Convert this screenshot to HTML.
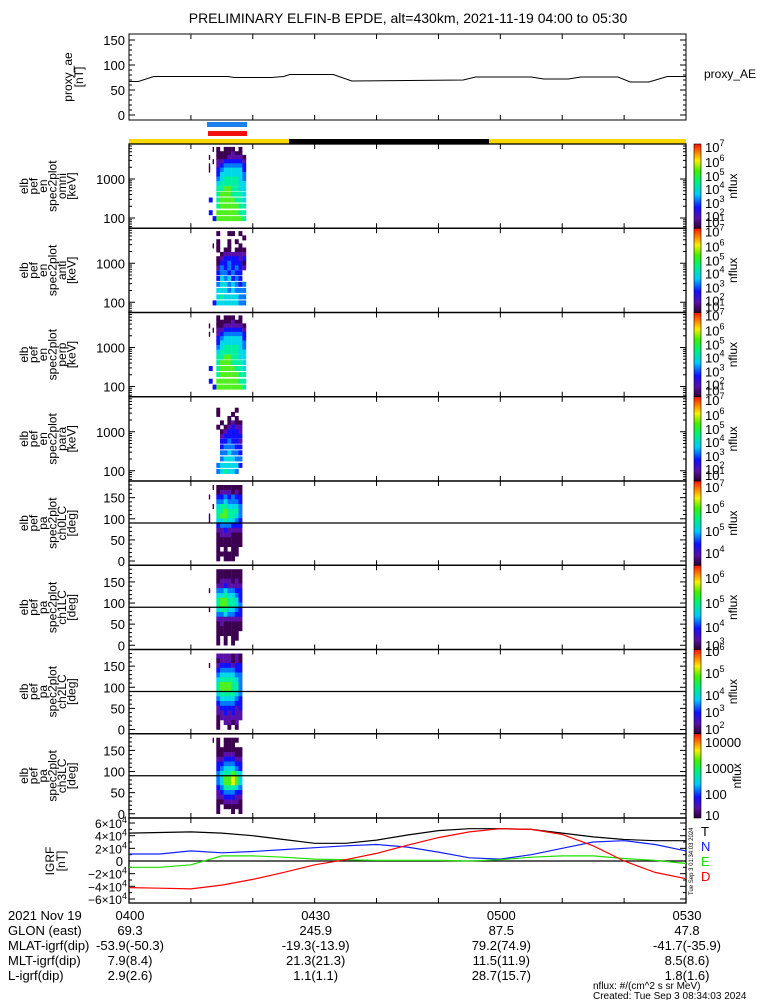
<!DOCTYPE html>
<html><head><meta charset="utf-8"><style>
html,body{margin:0;padding:0;background:#fff;}
svg{display:block;font-family:"Liberation Sans",sans-serif;}
</style></head><body>
<svg id="c" width="775" height="1000" viewBox="0 0 775 1000">
<text x="408" y="23" font-size="14" text-anchor="middle">PRELIMINARY ELFIN-B EPDE, alt=430km, 2021-11-19 04:00 to 05:30</text>
</svg>
<script>
const timeCols=[13.2,13.8,14.4,15.0,15.6,16.2,16.8,17.4,18.0,18.6,19.2];
const energyBins=[5800,4500,3600,2800,2200,1700,1315,1010,770,572,413,291,203,138,97,63];
const paBins=[174.4,163.1,151.9,140.6,129.4,118.1,106.9,95.6,84.4,73.1,61.9,50.6,39.4,28.1,16.9,5.6];
const aeTimes=[0,1.5,4,16,17,23,25,26,33,36,45,54,56,65,67,71,73,79,81,84,87,90];
const aeValues=[67,67,77,77,75,75,77,81,81,68,69,70,76,76,72,72,76,76,66,66,77,77];
const igrfTimes=[0,5,10,15,20,25,30,35,40,45,50,55,60,65,70,75,80,85,90];
const igrfT=[4.4,4.5,4.6,4.4,4.0,3.4,2.8,2.8,3.3,4.1,4.8,5.1,5.1,5.0,4.4,3.8,3.4,3.2,3.2];
const igrfN=[1.1,1.1,1.6,1.3,1.5,1.8,2.1,2.4,2.6,2.2,1.4,0.5,0.3,1.0,2.0,3.0,3.2,2.6,1.6];
const igrfE=[-1.0,-1.0,-0.6,0.8,0.8,0.6,0.3,0.2,0.1,0.1,0.1,0.0,0.2,0.6,0.8,0.8,0.4,0.1,-0.4];
const igrfD=[-4.2,-4.3,-4.4,-3.8,-2.9,-1.8,-0.6,0.2,1.2,2.5,3.7,4.6,5.1,5.0,4.2,2.4,0.0,-1.8,-2.8];
const specOmni=["01101110100","00111121100","10111222210","01223333320","10234444430","10345555530","00355555540","00456666540","00566666550","00667766550","00677766650","30677776650","00677777660","30777777660","03777777760","00000000000"];
const specAnt=["00100110100","00000000010","00100101000","01100100100","00101101110","00012222220","00123333230","00133433310","00243434320","00344343300","00354534300","00455454340","00555454440","00565555440","03555555440","00000000000"];
const specPerp=["00101110100","00111121100","10112222210","01223333320","10234444430","00345555530","00355555540","00456666540","00566666550","00667766550","00677766650","30677776650","00677777660","30777777660","03777777760","00000000000"];
const specPara=["00000000000","00000000000","00100001000","00100010000","00000101000","00010121100","00101232200","00012333200","00023333300","00033433200","00034443300","00044544300","00045554400","00455555300","00456554000","00000000000"];
const pa0=["01111111100","00122212100","10334343300","00445444300","01566555400","00667666400","10677665400","10556554300","00344433300","00223222200","00122211100","00111111100","00111111100","00101011000","00111111000","00101110000"];
const pa1=["00111111100","00111111100","00122212100","00223222200","10445443300","00556554300","00677665300","00677665400","10566554300","00445443300","00222222200","00121111100","00111111100","00111111000","00101011000","00101010000"];
const pa2=["00222212100","00122212100","10233323300","00344443300","00455554400","00566665400","00677766400","00677766400","00566665400","00455554300","00344443300","00233332300","00223232200","00122222200","00102212000","00100101000"];
const pa3=["01101111000","00101110000","00111111100","00112221100","00223332200","00334443300","00345554300","00456676500","00457787500","00457787500","00346665400","00234443300","00223332200","00112222100","00101111100","00100010100"];
const cbLabels1=[["7",147],["6",162],["5",176],["4",189],["3",203],["2",216],["1",222]];
const cbLabelsPa0=[["7",487],["6",508],["5",531],["4",553]];
const cbLabelsPa1=[["6",578],["5",603],["4",627],["3",645]];
const cbLabelsPa2=[["6",651],["5",673],["4",695],["3",712],["2",729]];
const cbLabelsPa3=[["10000",743],["1000",769],["100",795],["10",816]];

const NS="http://www.w3.org/2000/svg";
const svg=document.getElementById('c');
const X0=129,X1=686;
function xT(t){return X0+(X1-X0)*t/90;}
function mk(tag,attrs,parent){const e=document.createElementNS(NS,tag);for(const k in attrs)e.setAttribute(k,attrs[k]);(parent||svg).appendChild(e);return e;}
function txt(x,y,s,size,anchor,parent){const t=mk('text',{x:x,y:y,'font-size':size||12,'text-anchor':anchor||'start'},parent);t.textContent=s;return t;}
const colors=[null,'#3c0050','#5a10a8','#1010ff','#0078ff','#00d8e8','#00f0a0','#50f020','#f8f000','#ff8000'];
const PT=144,PH=84.25;

const aeTop=34,aeBot=120;
function yAE(v){return 115-v*0.5;}
let g=mk('g',{});


mk('rect',{x:X0,y:aeTop,width:X1-X0,height:aeBot-aeTop,fill:'none',stroke:'#000','stroke-width':1},g);
for(let v=0;v<=150;v+=10){const y=yAE(v);const L=(v%50==0)?6:3;mk('line',{x1:X0,x2:X0+L,y1:y,y2:y,stroke:'#000'},g);mk('line',{x1:X1,x2:X1-L,y1:y,y2:y,stroke:'#000'},g);
 if(v%50==0){txt(X0-4,y+5,String(v),13,'end',g);}}
let d='';aeTimes.forEach((t,i)=>{d+=(i?'L':'M')+xT(t).toFixed(1)+','+yAE(aeValues[i]).toFixed(1);});
let p=mk('path',{d:d,fill:'none',stroke:'#000','stroke-width':1},g);


let t1=txt(704,78,'proxy_AE',12,'start',g);


let yl=mk('text',{transform:'translate(78,77) rotate(-90)','font-size':12,'text-anchor':'middle'},g);


yl.innerHTML='<tspan x="0" dy="-6">proxy_ae</tspan><tspan x="0" dy="11">[nT]</tspan>';

function xTicks(top,bot,par){for(let t=10;t<90;t+=10){const x=xT(t);mk('line',{x1:x,x2:x,y1:bot,y2:bot-5,stroke:'#000'},par);mk('line',{x1:x,x2:x,y1:top,y2:top+5,stroke:'#000'},par);}}
xTicks(aeTop,aeBot,g);

let b=mk('rect',{x:207,y:122,width:40,height:5,fill:'#1a80f0'});


b=mk('rect',{x:208,y:131,width:39,height:5,fill:'#f01010'});


b=mk('rect',{x:X0,y:139,width:X1-X0,height:5,fill:'#f8d800'});


b=mk('rect',{x:289,y:139,width:200,height:5,fill:'#000'});



const defs=mk('defs',{});
const lg=mk('linearGradient',{id:'cb',x1:0,y1:1,x2:0,y2:0},defs);
[['0','#2a0038'],['0.12','#5a10a8'],['0.25','#1010ff'],['0.4','#00c8ff'],['0.55','#00f080'],['0.68','#40f000'],['0.8','#f8f000'],['0.9','#ff8000'],['1','#ff1000']].forEach(s=>mk('stop',{offset:s[0],'stop-color':s[1]},lg));

function sup(parent,x,y,base,exp){const t=mk('text',{x:x,y:y,'font-size':13},parent);t.innerHTML=base+'<tspan dy="-6" font-size="9">'+exp+'</tspan>';return t;}

function spectro(idx,data,lines,isPA,cbl,name){
 const top=PT+idx*PH,bot=top+PH;
 const gg=mk('g',{});
 
 
 const yE=v=>top+35+(3-Math.log10(v))*39;
 const yP=v=>top+4+(180-v)*(76/180);
 const cw=xT(timeCols[1])-xT(timeCols[0]);
 data.forEach((row,r)=>{
  for(let c=0;c<row.length;c++){const lv=+row[c];if(!lv)continue;
   let yc,h;
   if(isPA){yc=yP(paBins[r]);h=(76/180)*11.25;}else{yc=yE(energyBins[r]);h=Math.abs(yE(energyBins[r]*1.3)-yE(energyBins[r]))+0.3;}
   const cell=mk('rect',{x:(xT(timeCols[c])-cw/2).toFixed(1),y:(yc-h/2).toFixed(1),width:(lv<=1&&c<2?1.4:cw+0.2).toFixed(1),height:(h+0.3).toFixed(1),fill:colors[lv]},gg);
   
   
  }});
 mk('rect',{x:X0,y:top,width:X1-X0,height:PH,fill:'none',stroke:'#000','stroke-width':1.3},gg);
 xTicks(top,bot,gg);
 if(isPA){
  const yl90=yP(90);mk('line',{x1:X0,x2:X1,y1:yl90,y2:yl90,stroke:'#000','stroke-width':1.2},gg);
  for(let v=0;v<=180;v+=10){const y=yP(v);const L=(v%50==0)?6:3;mk('line',{x1:X0,x2:X0+L,y1:y,y2:y,stroke:'#000'},gg);mk('line',{x1:X1,x2:X1-L,y1:y,y2:y,stroke:'#000'},gg);
   if(v%50==0)txt(X0-4,y+5,String(v),13,'end',gg);}
 }else{
  for(let dcd=1;dcd<=4;dcd++)for(let m=1;m<10;m++){const v=m*Math.pow(10,dcd);const y=yE(v);if(y<top||y>bot)continue;const L=m==1?6:3;mk('line',{x1:X0,x2:X0+L,y1:y,y2:y,stroke:'#000'},gg);mk('line',{x1:X1,x2:X1-L,y1:y,y2:y,stroke:'#000'},gg);}
  txt(X0-4,yE(1000)+5,'1000',13,'end',gg);txt(X0-4,yE(100)+5,'100',13,'end',gg);
 }
 const ylab=mk('text',{transform:'translate('+(50)+','+(top+PH/2)+') rotate(-90)','font-size':12,'text-anchor':'middle'},gg);
 
 
 let inner='';lines.forEach((s,i)=>{inner+='<tspan x="0" y="'+(-22+i*9.5)+'">'+s+'</tspan>';});ylab.innerHTML=inner;
 const cb=mk('rect',{x:694,y:top,width:7,height:PH,fill:'url(#cb)',stroke:'#000','stroke-width':0.6},gg);
 
 
 cbl.forEach(l=>{if(l[0].length>1)txt(705,l[1]+4,l[0],13,'start',gg);else sup(gg,705,l[1]+5,'10',l[0]);});
 const nf=mk('text',{transform:'translate('+(idx==7?741:737)+','+(top+PH/2)+') rotate(-90)','font-size':12,'text-anchor':'middle'},gg);nf.textContent='nflux';
 
 
}
spectro(0,specOmni,['elb','pef','en','spec2plot','omni','[keV]'],false,cbLabels1,'energy-spectrogram-omni');
spectro(1,specAnt,['elb','pef','en','spec2plot','anti','[keV]'],false,cbLabels1.map(l=>[l[0],l[1]+PH]),'energy-spectrogram-anti');
spectro(2,specPerp,['elb','pef','en','spec2plot','perp','[keV]'],false,cbLabels1.map(l=>[l[0],l[1]+2*PH]),'energy-spectrogram-perp');
spectro(3,specPara,['elb','pef','en','spec2plot','para','[keV]'],false,cbLabels1.map(l=>[l[0],l[1]+3*PH]),'energy-spectrogram-para');
spectro(4,pa0,['elb','pef','pa','spec2plot','ch0LC','[deg]'],true,cbLabelsPa0,'pitch-angle-ch0');
spectro(5,pa1,['elb','pef','pa','spec2plot','ch1LC','[deg]'],true,cbLabelsPa1,'pitch-angle-ch1');
spectro(6,pa2,['elb','pef','pa','spec2plot','ch2LC','[deg]'],true,cbLabelsPa2,'pitch-angle-ch2');
spectro(7,pa3,['elb','pef','pa','spec2plot','ch3LC','[deg]'],true,cbLabelsPa3,'pitch-angle-ch3');

const iTop=818,iBot=903;
const yI=v=>861-v*6.33;
const gi=mk('g',{});


mk('rect',{x:X0,y:iTop,width:X1-X0,height:iBot-iTop,fill:'none',stroke:'#000','stroke-width':1.3},gi);
mk('line',{x1:X0,x2:X1,y1:yI(0),y2:yI(0),stroke:'#000','stroke-width':1.2},gi);
xTicks(iTop,iBot,gi);
for(let v=-6;v<=6;v+=1){const y=yI(v);const L=(v%2==0)?6:3;mk('line',{x1:X0,x2:X0+L,y1:y,y2:y,stroke:'#000'},gi);mk('line',{x1:X1,x2:X1-L,y1:y,y2:y,stroke:'#000'},gi);
 if(v%2==0){if(v==0)txt(X0-6,y+5,'0',13,'end',gi);else{const t=mk('text',{x:X0-2,y:y+5,'font-size':12,'text-anchor':'end'},gi);t.innerHTML=(v<0?'\u2212':'')+Math.abs(v)+'\u00d710<tspan dy="-5" font-size="9">4</tspan>';}}}
[[igrfT,'#000','igrf-t-line'],[igrfN,'#1020ff','igrf-n-line'],[igrfE,'#20e000','igrf-e-line'],[igrfD,'#ff0000','igrf-d-line']].forEach(s=>{
 let dd='';igrfTimes.forEach((t,i)=>{dd+=(i?'L':'M')+xT(t).toFixed(1)+','+yI(s[0][i]).toFixed(1);});
 const pp=mk('path',{d:dd,fill:'none',stroke:s[1],'stroke-width':1.2},gi);
 
 
});
[['T','#000',836],['N','#1020ff',851],['E','#20e000',866],['D','#ff0000',881]].forEach(l=>{const t=txt(701,l[2],l[0],13,'start',gi);t.setAttribute('fill',l[1]);});
const il=mk('text',{transform:'translate(58,861) rotate(-90)','font-size':12,'text-anchor':'middle'},gi);


il.innerHTML='<tspan x="0" y="-4">IGRF</tspan><tspan x="0" y="7">[nT]</tspan>';
const sm=mk('text',{transform:'translate(693,895) rotate(-90)','font-size':6},gi);sm.textContent='Tue Sep  3 01:34:03 2024';

const gf=mk('g',{'font-size':13});


const rowsY=[920,935,950,965,980];
const labels=['2021 Nov 19','GLON (east)','MLAT-igrf(dip)','MLT-igrf(dip)','L-igrf(dip)'];
labels.forEach((s,i)=>txt(8,rowsY[i],s,13,'start',gf));
const cols=[[0,['0400','69.3','-53.9(-50.3)','7.9(8.4)','2.9(2.6)']],[30,['0430','245.9','-19.3(-13.9)','21.3(21.3)','1.1(1.1)']],[60,['0500','87.5','79.2(74.9)','11.5(11.9)','28.7(15.7)']],[90,['0530','47.8','-41.7(-35.9)','8.5(8.6)','1.8(1.6)']]];
cols.forEach(c=>c[1].forEach((s,i)=>txt(xT(c[0])+1,rowsY[i],s,13,'middle',gf)));
txt(593,989,'nflux: #/(cm^2 s sr MeV)',10,'start',gf);
txt(593,999,'Created: Tue Sep  3 08:34:03 2024',10,'start',gf);
</script>
</body></html>
